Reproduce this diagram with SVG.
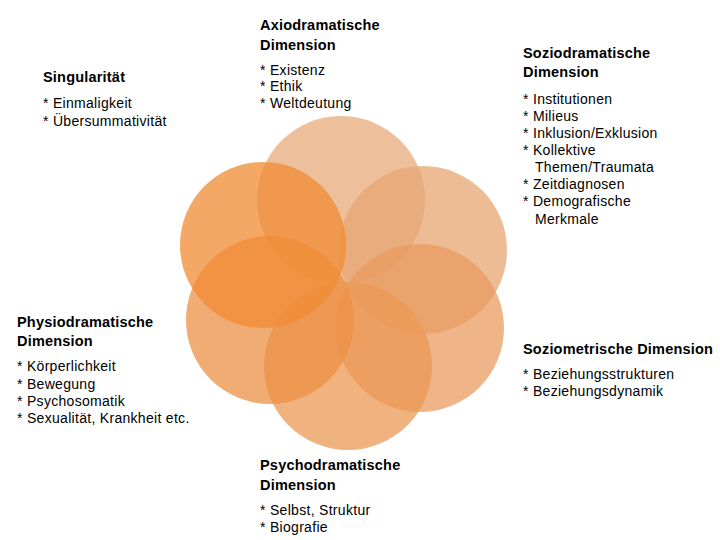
<svg xmlns="http://www.w3.org/2000/svg" width="720" height="540" viewBox="0 0 720 540">
<style>
.h{font-family:"Liberation Sans",Arial,sans-serif;font-size:14.5px;font-weight:bold;fill:#000;letter-spacing:0.2px}
.t{font-family:"Liberation Sans",Arial,sans-serif;font-size:14px;fill:#000;letter-spacing:0.3px}
circle{fill-opacity:0.75}
</style>
<rect width="720" height="540" fill="#fff"/>
<g id="flower">
<circle id="c-top" cx="341" cy="200" r="84" fill="#E7AA78"/>
<circle id="c-ur" cx="423" cy="250" r="84" fill="#E7A672"/>
<circle id="c-lr" cx="420" cy="328" r="84" fill="#EA9B60"/>
<circle id="c-bottom" cx="348" cy="366" r="84" fill="#EB9854"/>
<circle id="c-ll" cx="270" cy="320" r="84" fill="#EC9044"/>
<circle id="c-ul" cx="263" cy="245" r="83" fill="#F08B33"/>
</g>
<g id="connectors"></g>
<g id="axio">
<text class="h" x="260" y="30">Axiodramatische</text>
<text class="h" x="260" y="50">Dimension</text>
<text class="t" x="260" y="75">* Existenz</text>
<text class="t" x="260" y="91">* Ethik</text>
<text class="t" x="260" y="108">* Weltdeutung</text>
</g>
<g id="singularitaet">
<text class="h" x="43" y="82">Singularität</text>
<text class="t" x="43" y="108">* Einmaligkeit</text>
<text class="t" x="43" y="126">* Übersummativität</text>
</g>
<g id="sozio">
<text class="h" x="523" y="58">Soziodramatische</text>
<text class="h" x="523" y="77">Dimension</text>
<text class="t" x="523" y="104">* Institutionen</text>
<text class="t" x="523" y="121">* Milieus</text>
<text class="t" x="523" y="138">* Inklusion/Exklusion</text>
<text class="t" x="523" y="155">* Kollektive</text>
<text class="t" x="535" y="172">Themen/Traumata</text>
<text class="t" x="523" y="189">* Zeitdiagnosen</text>
<text class="t" x="523" y="206">* Demografische</text>
<text class="t" x="535" y="224">Merkmale</text>
</g>
<g id="physio">
<text class="h" x="17" y="327">Physiodramatische</text>
<text class="h" x="17" y="346">Dimension</text>
<text class="t" x="17" y="371">* Körperlichkeit</text>
<text class="t" x="17" y="389">* Bewegung</text>
<text class="t" x="17" y="406">* Psychosomatik</text>
<text class="t" x="17" y="423">* Sexualität, Krankheit etc.</text>
</g>
<g id="soziometrie">
<text class="h" x="523" y="354">Soziometrische Dimension</text>
<text class="t" x="523" y="379">* Beziehungsstrukturen</text>
<text class="t" x="523" y="396">* Beziehungsdynamik</text>
</g>
<g id="psycho">
<text class="h" x="260" y="470">Psychodramatische</text>
<text class="h" x="260" y="490">Dimension</text>
<text class="t" x="260" y="515">* Selbst, Struktur</text>
<text class="t" x="260" y="532">* Biografie</text>
</g>
</svg>
